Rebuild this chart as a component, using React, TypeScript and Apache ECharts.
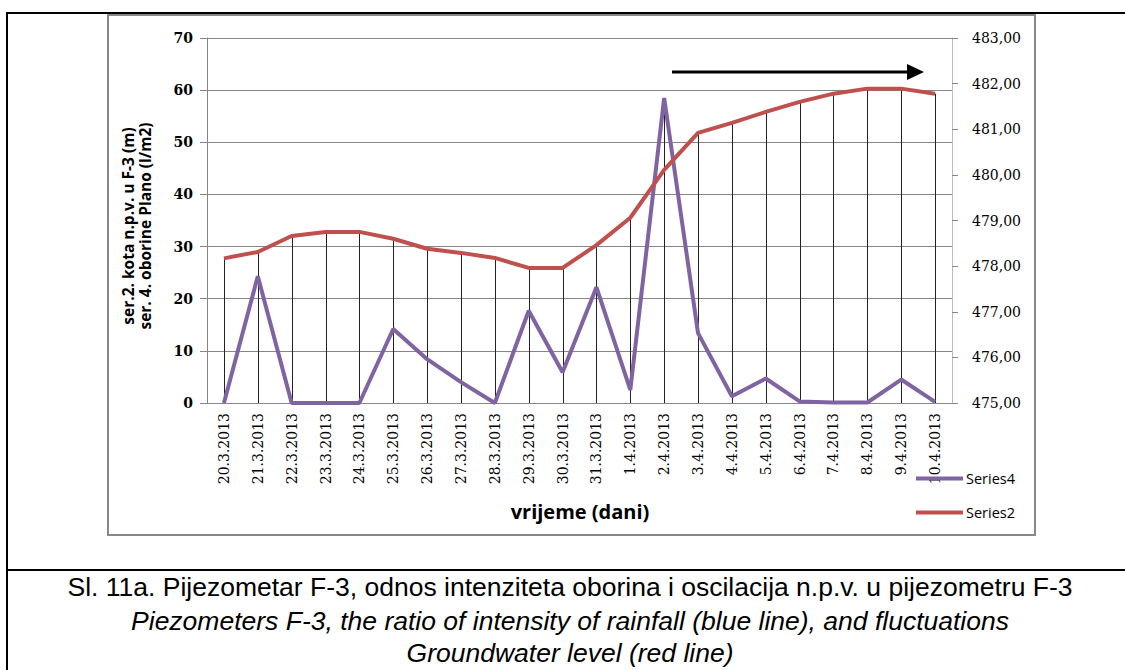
import React, { useEffect, useRef } from "react";
import * as echarts from "echarts";

const categories = [
  "20.3.2013", "21.3.2013", "22.3.2013", "23.3.2013", "24.3.2013", "25.3.2013",
  "26.3.2013", "27.3.2013", "28.3.2013", "29.3.2013", "30.3.2013", "31.3.2013",
  "1.4.2013", "2.4.2013", "3.4.2013", "4.4.2013", "5.4.2013", "6.4.2013",
  "7.4.2013", "8.4.2013", "9.4.2013", "10.4.2013",
];
// Series4: rainfall (l/m2), left axis
const series4 = [0, 24.3, 0, 0, 0, 14.2, 8.4, 4, 0, 17.7, 5.9, 22.2, 2.5, 58.5, 13.4, 1.3, 4.7, 0.3, 0.1, 0.1, 4.5, 0.2];
// Series2: groundwater level (m), right axis
const series2 = [478.17, 478.31, 478.66, 478.75, 478.75, 478.6, 478.38, 478.29, 478.18, 477.96, 477.96, 478.46, 479.06, 480.11, 480.92, 481.14, 481.38, 481.6, 481.78, 481.89, 481.89, 481.78];

const leftTicks = { min: 0, max: 70, interval: 10 };
const rightTicks = { min: 475, max: 483, interval: 1 };

const captionLines = [
  "Sl. 11a. Pijezometar F-3, odnos intenziteta oborina i oscilacija n.p.v. u pijezometru F-3",
  "Piezometers F-3, the ratio of intensity of rainfall (blue line), and fluctuations",
  "Groundwater level (red line)",
];

export default function App() {
  const ref = useRef<HTMLDivElement>(null);
  useEffect(() => {
    document.body.style.margin = "0";
    const chart = echarts.init(ref.current!, null, { renderer: "svg" });
    const scale = (leftTicks.max - leftTicks.min) / (rightTicks.max - rightTicks.min);
    const dropTops = categories.map((_, i) =>
      [i, Math.max(series4[i], (series2[i] - rightTicks.min) * scale)]
    );
    const serif = "DejaVu Serif";
    const sans = "Open Sans";
    chart.setOption({
      animation: false,
      backgroundColor: "#fff",
      grid: { left: 207, right: 173, top: 38, bottom: 267, containLabel: false },
      legend: {
        orient: "vertical",
        left: 911,
        top: 466,
        itemGap: 19,
        itemWidth: 47,
        itemHeight: 4,
        icon: "rect",
        textStyle: { fontFamily: sans, fontSize: 14.5, color: "#000", padding: [0, 0, 0, -2] },
        data: [
          { name: "Series4", itemStyle: { color: "#8064A2" } },
          { name: "Series2", itemStyle: { color: "#C0504D" } },
        ],
      },
      xAxis: {
        type: "category",
        data: categories,
        boundaryGap: true,
        axisLine: { show: true, lineStyle: { color: "#868686", width: 1 } },
        axisTick: { show: false },
        axisLabel: {
          rotate: 90,
          interval: 0,
          margin: 10,
          fontFamily: serif,
          fontSize: 14,
          color: "#000",
        },
        splitLine: { show: false },
      },
      yAxis: [
        {
          type: "value",
          min: leftTicks.min,
          max: leftTicks.max,
          interval: leftTicks.interval,
          position: "left",
          axisLine: { show: true, lineStyle: { color: "#868686" } },
          axisTick: { show: true, length: 7, lineStyle: { color: "#868686" } },
          axisLabel: { fontFamily: serif, fontSize: 14, fontWeight: "bold", color: "#000", margin: 14 },
          splitLine: { show: true, lineStyle: { color: "#868686", width: 1 } },
        },
        {
          type: "value",
          min: rightTicks.min,
          max: rightTicks.max,
          interval: rightTicks.interval,
          position: "right",
          axisLine: { show: true, lineStyle: { color: "#BDBDBD" } },
          axisTick: { show: true, length: 6, lineStyle: { color: "#868686" } },
          axisLabel: {
            fontFamily: serif,
            fontSize: 14,
            color: "#000",
            margin: 20,
            formatter: (v: number) => v.toFixed(2).replace(".", ","),
          },
          splitLine: { show: false },
        },
      ],
      series: [
        {
          type: "custom",
          name: "drop",
          yAxisIndex: 0,
          z: 1,
          silent: true,
          data: dropTops,
          renderItem: (params: any, api: any) => {
            const i = api.value(0);
            const top = api.coord([i, api.value(1)]);
            const bot = api.coord([i, 0]);
            return {
              type: "line",
              shape: { x1: Math.round(top[0]) + 0.5, y1: top[1], x2: Math.round(bot[0]) + 0.5, y2: bot[1] },
              style: { stroke: "#222", lineWidth: 1 },
            };
          },
        },
        {
          type: "line",
          name: "Series4",
          yAxisIndex: 0,
          data: series4,
          z: 3,
          symbol: "none",
          lineStyle: { color: "#8064A2", width: 4 },
          itemStyle: { color: "#8064A2" },
        },
        {
          type: "line",
          name: "Series2",
          yAxisIndex: 1,
          data: series2,
          z: 4,
          symbol: "none",
          lineStyle: { color: "#C0504D", width: 4 },
          itemStyle: { color: "#C0504D" },
        },
      ],
      graphic: [
        // outer border lines
        { type: "line", shape: { x1: 7, y1: 13, x2: 1125, y2: 13 }, style: { stroke: "#000", lineWidth: 2 } },
        { type: "line", shape: { x1: 7, y1: 12, x2: 7, y2: 670 }, style: { stroke: "#000", lineWidth: 2 } },
        { type: "line", shape: { x1: 7, y1: 570, x2: 1125, y2: 570 }, style: { stroke: "#000", lineWidth: 2 } },
        // chart frame
        { type: "rect", shape: { x: 108, y: 15, width: 927, height: 520 }, style: { fill: "none", stroke: "#888", lineWidth: 2 }, z: -1 },
        // arrow
        { type: "line", shape: { x1: 672, y1: 72, x2: 910, y2: 72 }, style: { stroke: "#000", lineWidth: 3 } },
        { type: "polygon", shape: { points: [[907, 64], [924, 72], [907, 80]] }, style: { fill: "#000" } },
        // y axis name
        {
          type: "text",
          x: 128,
          y: 226,
          rotation: Math.PI / 2,
          style: {
            text: "ser.2. kota n.p.v. u F-3 (m)",
            fontFamily: sans,
            fontWeight: "bold",
            fontSize: 15.5,
            fill: "#000",
            align: "center",
            verticalAlign: "middle",
          },
        },
        {
          type: "text",
          x: 145,
          y: 226,
          rotation: Math.PI / 2,
          style: {
            text: "ser. 4. oborine Plano (l/m2)",
            fontFamily: sans,
            fontWeight: "bold",
            fontSize: 15.5,
            fill: "#000",
            align: "center",
            verticalAlign: "middle",
          },
        },
        // x axis name
        {
          type: "text",
          x: 580,
          y: 511,
          style: {
            text: "vrijeme (dani)",
            fontFamily: sans,
            fontWeight: "bold",
            fontSize: 20,
            fill: "#000",
            align: "center",
            verticalAlign: "middle",
          },
        },
        // caption
        ...captionLines.map((t, i) => ({
          type: "text",
          x: 570,
          y: [587, 621, 653][i],
          style: {
            text: t,
            fontFamily: "Liberation Sans",
            fontSize: 26.5,
            fontStyle: i === 0 ? "normal" : "italic",
            fill: "#000",
            align: "center",
            verticalAlign: "middle",
          },
        })),
      ],
    });
    return () => chart.dispose();
  }, []);
  return <div ref={ref} style={{ width: 1125, height: 670 }} />;
}
